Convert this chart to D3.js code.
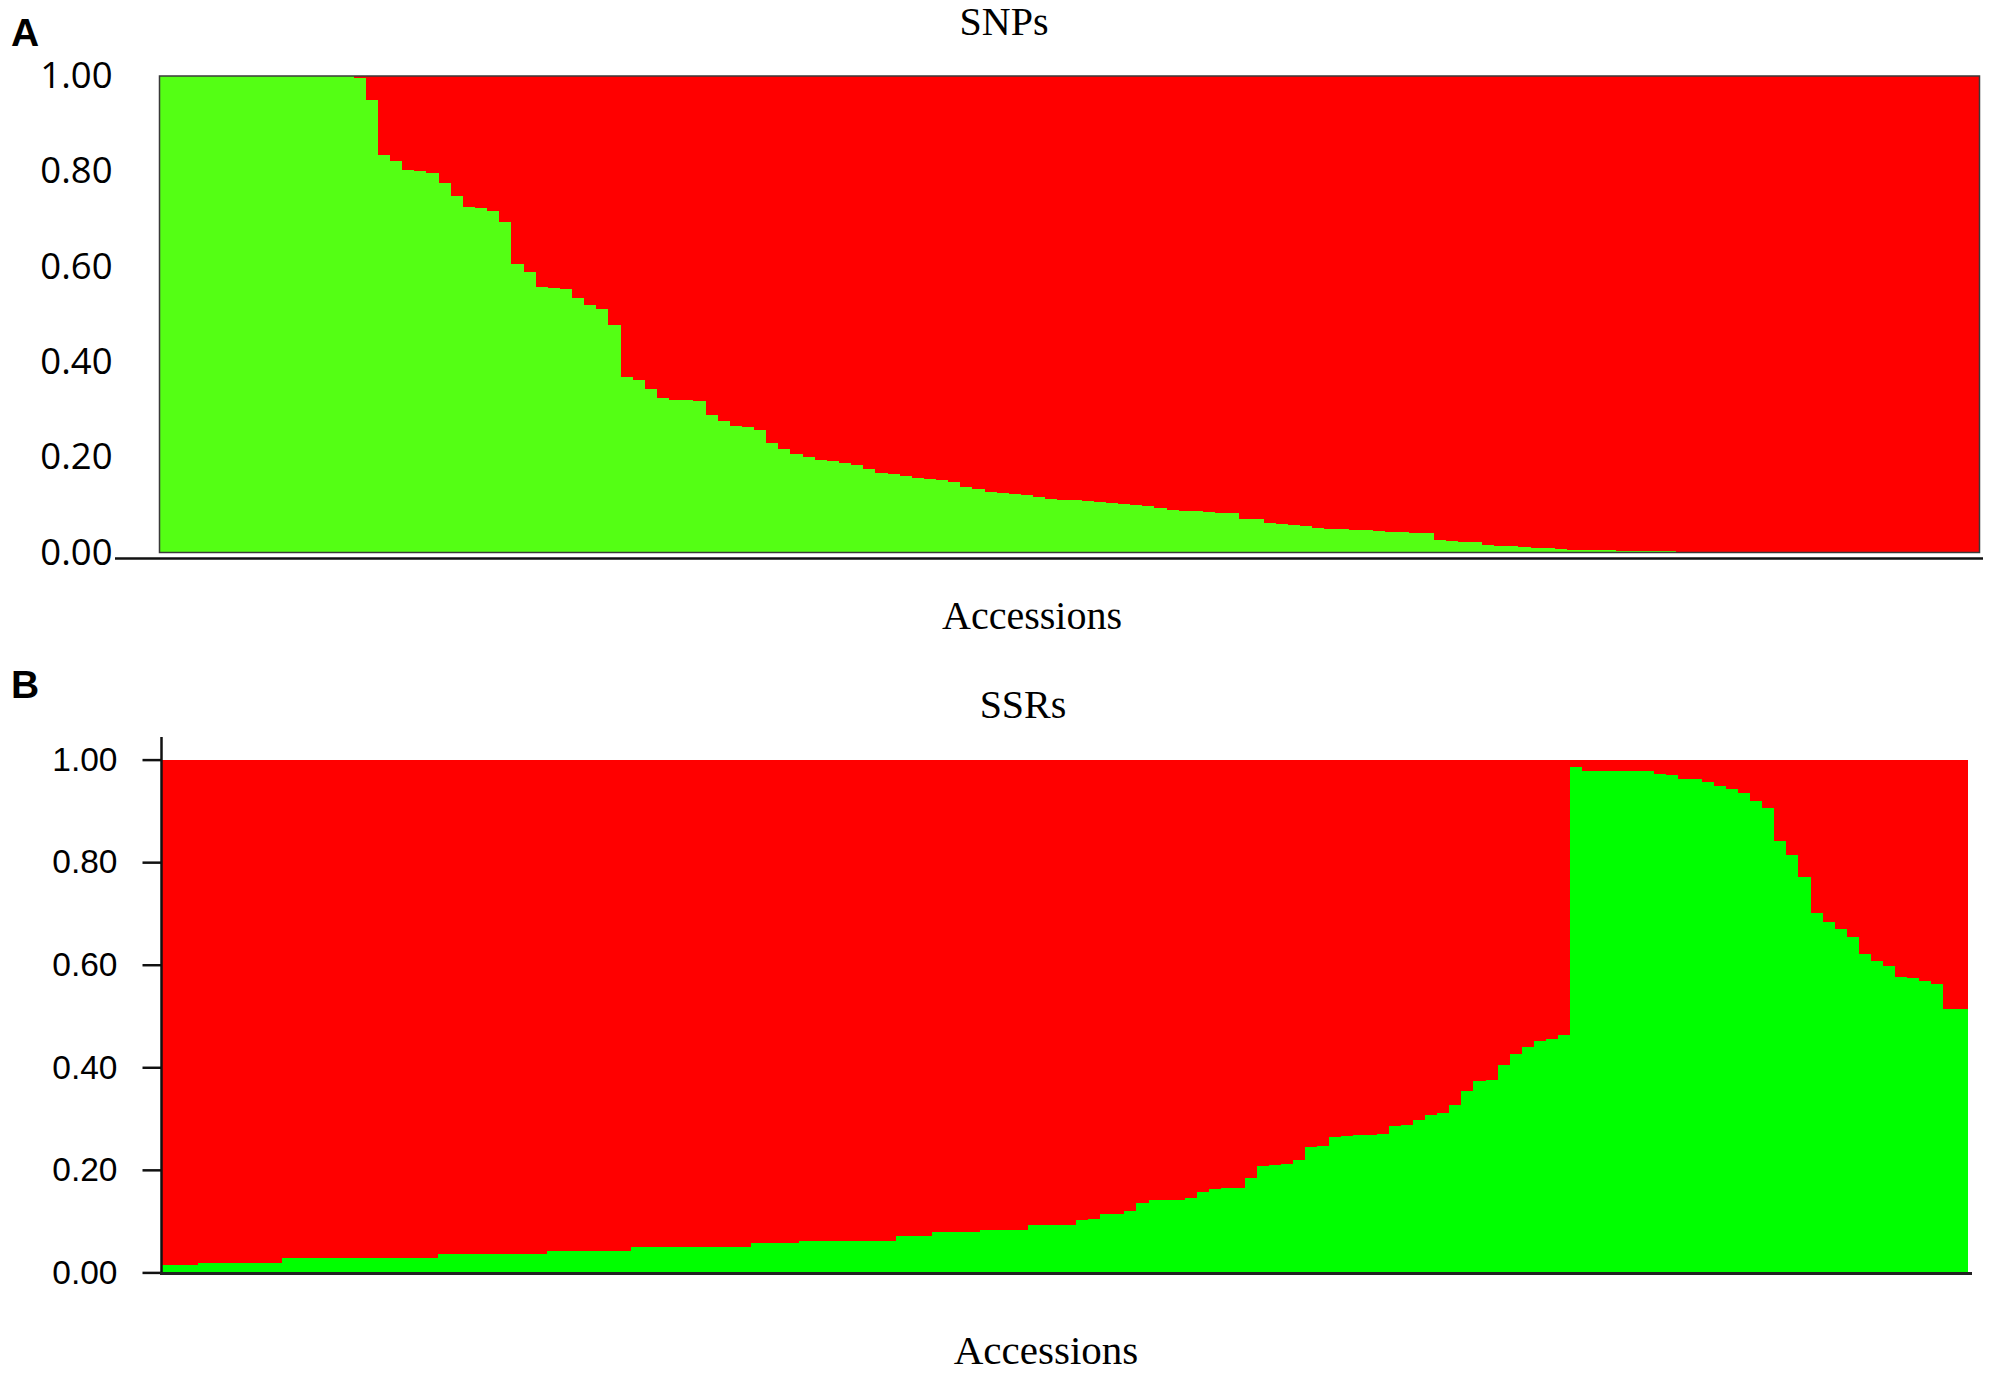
<!DOCTYPE html>
<html>
<head>
<meta charset="utf-8">
<script src="https://cdn.jsdelivr.net/npm/d3@7"></script>
<style>
  html, body { margin: 0; padding: 0; background: #fff; }
  svg { display: block; }
</style>
</head>
<body>
<div id="chart"></div>
<script>
// membership coefficient of the "green" cluster for each accession, in plotted order
const snpGreen = [
  1, 1, 1, 1, 1, 1, 1, 1, 1, 1, 1, 1, 1, 1, 1, 1,
  0.995, 0.950, 0.834, 0.822, 0.803, 0.800, 0.797, 0.775, 0.748, 0.726,
  0.722, 0.717, 0.694, 0.605, 0.589, 0.558, 0.555, 0.552, 0.535, 0.519,
  0.512, 0.478, 0.369, 0.363, 0.344, 0.325, 0.320, 0.319, 0.318, 0.288,
  0.277, 0.265, 0.263, 0.258, 0.229, 0.217, 0.206, 0.200, 0.194, 0.191,
  0.187, 0.183, 0.176, 0.167, 0.165, 0.160, 0.157, 0.155, 0.152, 0.149,
  0.138, 0.134, 0.127, 0.125, 0.123, 0.120, 0.117, 0.113, 0.111, 0.110,
  0.108, 0.106, 0.104, 0.102, 0.100, 0.097, 0.094, 0.090, 0.088, 0.087,
  0.085, 0.083, 0.082, 0.071, 0.070, 0.062, 0.060, 0.058, 0.055, 0.052,
  0.050, 0.049, 0.048, 0.047, 0.046, 0.044, 0.043, 0.041, 0.040, 0.027,
  0.025, 0.023, 0.021, 0.016, 0.014, 0.013, 0.012, 0.010, 0.009, 0.008,
  0.006, 0.006, 0.005, 0.005, 0.004, 0.0035, 0.003, 0.003, 0.0025, 0.002,
  0.002, 0.002, 0.0015, 0.0015, 0.0015, 0.001, 0.001, 0.001, 0.001, 0.001,
  0, 0, 0, 0, 0, 0, 0, 0, 0, 0, 0, 0, 0, 0
];

const ssrGreen = [
  0.014, 0.014, 0.014,
  0.018, 0.018, 0.018, 0.018, 0.018, 0.018, 0.018,
  0.029, 0.029, 0.029, 0.029, 0.029, 0.029, 0.029, 0.029, 0.029, 0.029, 0.029, 0.029, 0.029,
  0.036, 0.036, 0.036, 0.036, 0.036, 0.036, 0.036, 0.036, 0.036,
  0.041, 0.041, 0.041, 0.041, 0.041, 0.041, 0.041,
  0.050, 0.050, 0.050, 0.050, 0.050, 0.050, 0.050, 0.050, 0.050, 0.050,
  0.057, 0.057, 0.057, 0.057,
  0.062, 0.062, 0.062, 0.062, 0.062, 0.062, 0.062, 0.062,
  0.071, 0.071, 0.071,
  0.079, 0.079, 0.079, 0.079,
  0.082, 0.082, 0.082, 0.082,
  0.092, 0.092, 0.092, 0.092,
  0.102, 0.104, 0.113, 0.114, 0.120, 0.136,
  0.141, 0.141, 0.141, 0.146, 0.156,
  0.163, 0.164, 0.165, 0.185, 0.207, 0.209, 0.212, 0.220,
  0.245, 0.247, 0.264, 0.266, 0.267, 0.268, 0.270,
  0.285, 0.288, 0.297, 0.306, 0.311, 0.327, 0.353, 0.373, 0.376,
  0.404, 0.425, 0.440, 0.452, 0.455, 0.462,
  0.985, 0.978, 0.978, 0.978, 0.978, 0.978, 0.978, 0.971, 0.970, 0.963,
  0.962, 0.956, 0.949, 0.942, 0.934, 0.920, 0.906, 0.841, 0.814, 0.771,
  0.700, 0.684, 0.670, 0.655, 0.621, 0.607, 0.598, 0.576, 0.575, 0.569,
  0.563, 0.513, 0.513
];

const yTicks = [0, 0.2, 0.4, 0.6, 0.8, 1.0];
const panelTitles = ['SNPs', 'SSRs'];
const panelLetters = ['A', 'B'];
const xTitle = 'Accessions';

const W = 1995, H = 1378;

const svg = d3.select('#chart').append('svg')
  .attr('width', W)
  .attr('height', H);

function drawPanel(opts) {
  const { values, left, right, top, bottom, green, red } = opts;
  const ids = values.map((d, i) => i);

  const x = d3.scaleBand()
    .domain(ids)
    .range([left, right])
    .padding(0);

  const y = d3.scaleLinear()
    .domain([0, 1])
    .range([bottom, top]);

  const g = svg.append('g').attr('class', 'panel');

  const bars = g.append('g')
    .attr('shape-rendering', 'crispEdges')
    .selectAll('g.bar')
    .data(values)
    .join('g')
    .attr('class', 'bar');

  // red part on top: from value up to 1
  bars.append('rect')
    .attr('x', (d, i) => x(i))
    .attr('width', x.bandwidth() + 0.5)
    .attr('y', y(1))
    .attr('height', d => y(d) - y(1))
    .attr('fill', red);

  // green part from 0 up to value
  bars.append('rect')
    .attr('x', (d, i) => x(i))
    .attr('width', x.bandwidth() + 0.5)
    .attr('y', d => y(d))
    .attr('height', d => y(0) - y(d))
    .attr('fill', green);

  return { g, x, y };
}

// ---- panel A (SNPs)
const A = drawPanel({
  values: snpGreen,
  left: 159.5, right: 1979.5, top: 76, bottom: 552.5,
  green: '#54ff14', red: '#ff0000'
});

A.g.append('rect')
  .attr('x', 159.5)
  .attr('y', 76)
  .attr('width', 1979.5 - 159.5)
  .attr('height', 552.5 - 76)
  .attr('fill', 'none')
  .attr('stroke', '#3a3a3a')
  .attr('stroke-width', 1.5);

A.g.append('g')
  .attr('transform', 'translate(159.5,0)')
  .call(d3.axisLeft(A.y).tickValues(yTicks).tickFormat(d3.format('.2f')).tickSize(0).tickPadding(47))
  .call(s => s.select('.domain').remove())
  .selectAll('text')
  .attr('font-family', '"Open Sans", "Noto Sans", sans-serif')
  .attr('font-size', 36.5)
  .attr('fill', '#000');

A.g.append('line')
  .attr('x1', 115).attr('x2', 1983)
  .attr('y1', 558.5).attr('y2', 558.5)
  .attr('stroke', '#111')
  .attr('stroke-width', 2.5);

// ---- panel B (SSRs)
const B = drawPanel({
  values: ssrGreen,
  left: 161.5, right: 1967, top: 759.6, bottom: 1272.4,
  green: '#00ff00', red: '#ff0000'
});

B.g.append('g')
  .attr('transform', 'translate(161.5,0)')
  .call(d3.axisLeft(B.y).tickValues(yTicks).tickFormat(d3.format('.2f')).tickSize(19).tickPadding(25))
  .call(s => s.select('.domain').remove())
  .call(s => s.selectAll('line').attr('stroke', '#111').attr('stroke-width', 2.5))
  .selectAll('text')
  .attr('font-family', '"Liberation Sans", Arial, sans-serif')
  .attr('font-size', 33.5)
  .attr('fill', '#000');

B.g.append('line')
  .attr('x1', 161.5).attr('x2', 161.5)
  .attr('y1', 737).attr('y2', 1274)
  .attr('stroke', '#111')
  .attr('stroke-width', 2.5);

B.g.append('line')
  .attr('x1', 160).attr('x2', 1972)
  .attr('y1', 1273.5).attr('y2', 1273.5)
  .attr('stroke', '#222')
  .attr('stroke-width', 3);

// ---- texts
const serif = '"Liberation Serif", "Times New Roman", serif';

svg.append('text').text(panelTitles[0])
  .attr('x', 1004).attr('y', 35)
  .attr('text-anchor', 'middle')
  .attr('font-family', serif).attr('font-size', 40);

svg.append('text').text(xTitle)
  .attr('x', 1032).attr('y', 629)
  .attr('text-anchor', 'middle')
  .attr('font-family', serif).attr('font-size', 40);

svg.append('text').text(panelTitles[1])
  .attr('x', 1023).attr('y', 718)
  .attr('text-anchor', 'middle')
  .attr('font-family', serif).attr('font-size', 40);

svg.append('text').text(xTitle)
  .attr('x', 1046).attr('y', 1364)
  .attr('text-anchor', 'middle')
  .attr('font-family', serif).attr('font-size', 41);

svg.selectAll('text.letter')
  .data(panelLetters)
  .join('text')
  .attr('class', 'letter')
  .text(d => d)
  .attr('x', 11)
  .attr('y', (d, i) => i === 0 ? 46 : 698)
  .attr('font-family', '"Liberation Sans", Arial, sans-serif')
  .attr('font-weight', 'bold')
  .attr('font-size', 39);
</script>
</body>
</html>
